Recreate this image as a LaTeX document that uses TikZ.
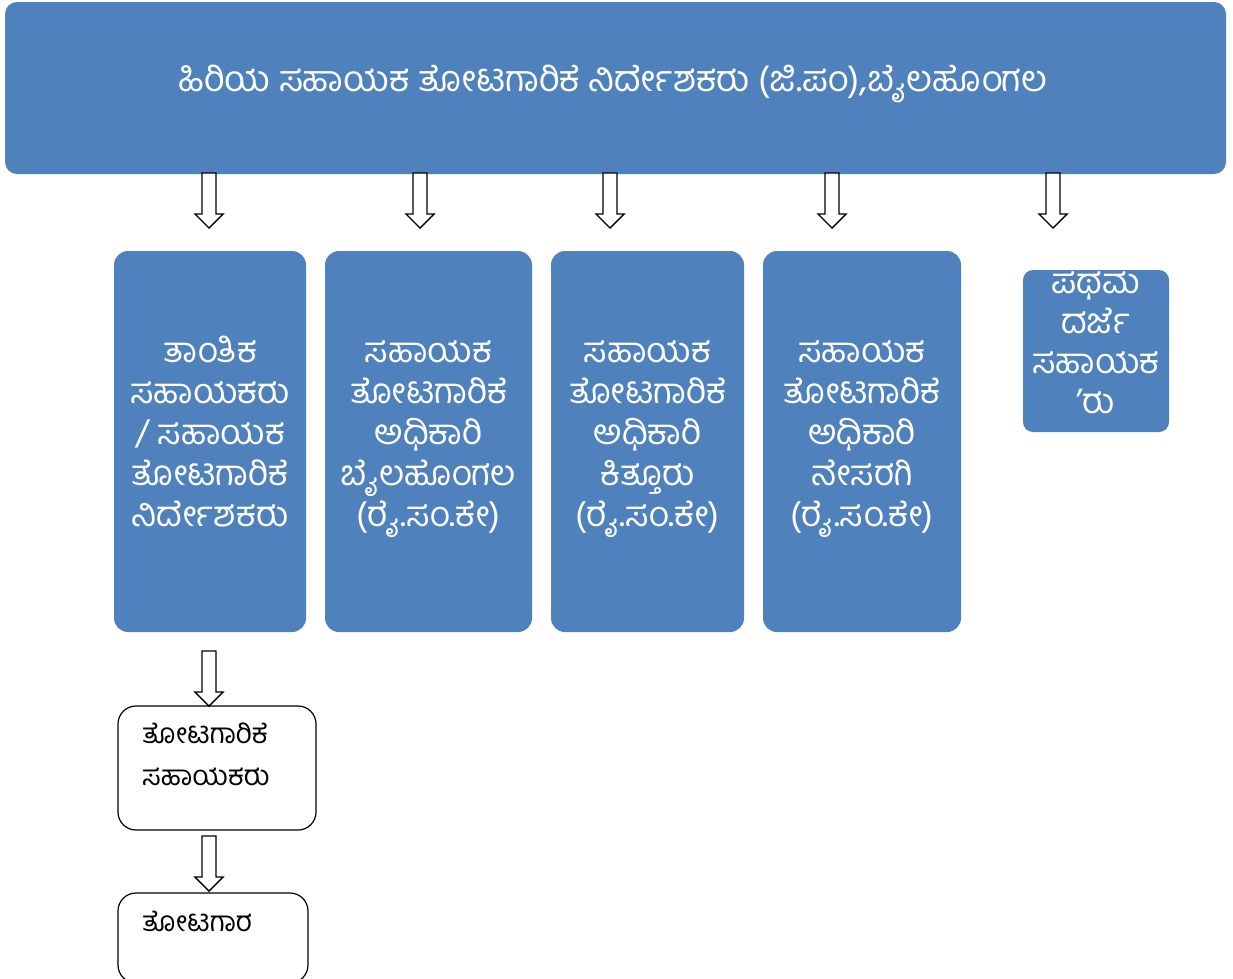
\documentclass[tikz,border=0pt]{standalone}
\usepackage{fontspec}
\newfontfamily\kn[Script=Kannada]{Hind Mysuru}
\definecolor{boxblue}{HTML}{4F81BD}
\newcommand\blockarrow[1]{%
  \draw[barrow] (#1) ++(-7,0) -- ++(0,41) -- ++(-7,0) -- ++(14,14) -- ++(14,-14) -- ++(-7,0) -- ++(0,-41) -- cycle;}
\begin{document}
\begin{tikzpicture}[x=1pt,y=-1pt,
  bluebox/.style={rectangle,rounded corners=14pt,fill=boxblue,text=white,inner sep=0pt,
    align=center,font=\kn\fontsize{35}{41}\selectfont,text height=181pt,text depth=12pt},
  whitebox/.style={rectangle,rounded corners=18pt,draw=black,line width=1.2pt,fill=white,inner sep=0pt},
  smalltext/.style={inner sep=0pt,align=left,anchor=north west,font=\kn\fontsize{28}{42}\selectfont},
  barrow/.style={draw=black,fill=white,line width=1.4pt,line join=miter}]
\useasboundingbox (0,0) rectangle (1233,978);
\clip (0,0) rectangle (1233,978);
\fill[white] (0,0) rectangle (1233,978);
% top banner
\node[bluebox,minimum width=1221pt,minimum height=172pt,rounded corners=12pt,text height=0pt,text depth=0pt] (top) at (615.5,88) {};
\node[text=white,inner sep=0pt,font=\kn\fontsize{36}{30}\selectfont] (title) at (613,84) {ಹಿರಿಯ ಸಹಾಯಕ ತೋಟಗಾರಿಕೆ ನಿರ್ದೇಶಕರು (ಜಿ.ಪಂ),ಬೈಲಹೊಂಗಲ};
% second row
\node[bluebox,minimum width=192pt,minimum height=381pt] (b1) at (210,441.5) {ತಾಂತಿಕ\\ಸಹಾಯಕರು\\/ ಸಹಾಯಕ\\ತೋಟಗಾರಿಕೆ\\ನಿರ್ದೇಶಕರು};
\node[bluebox,minimum width=207pt,minimum height=381pt] (b2) at (428.5,441.5) {ಸಹಾಯಕ\\ತೋಟಗಾರಿಕೆ\\ಅಧಿಕಾರಿ\\ಬೈಲಹೊಂಗಲ\\(ರೈ.ಸಂ.ಕೇ)};
\node[bluebox,minimum width=193pt,minimum height=381pt] (b3) at (647.5,441.5) {ಸಹಾಯಕ\\ತೋಟಗಾರಿಕೆ\\ಅಧಿಕಾರಿ\\ಕಿತ್ತೂರು\\(ರೈ.ಸಂ.ಕೇ)};
\node[bluebox,minimum width=198pt,minimum height=381pt] (b4) at (862,441.5) {ಸಹಾಯಕ\\ತೋಟಗಾರಿಕೆ\\ಅಧಿಕಾರಿ\\ನೇಸರಗಿ\\(ರೈ.ಸಂ.ಕೇ)};
\node[bluebox,minimum width=146pt,minimum height=162pt,rounded corners=10pt,font=\kn\fontsize{35}{40}\selectfont,text height=137pt,text depth=12pt] (b5) at (1096,351) {ಪಥಮ\\ದರ್ಜೆ\\ಸಹಾಯಕ\\’ರು};
% bottom chain
\node[whitebox,minimum width=198pt,minimum height=124pt] (c1) at (217,768) {};
\node[smalltext] (c1t) at (142,723) {ತೋಟಗಾರಿಕೆ\\ಸಹಾಯಕರು};
\node[whitebox,minimum width=190pt,minimum height=90pt] (c2) at (213,938) {};
\node[smalltext] (c2t) at (142,911) {ತೋಟಗಾರ};
% arrows
\coordinate (a1) at (209,173);
\coordinate (a2) at (420,173);
\coordinate (a3) at (610,173);
\coordinate (a4) at (832,173);
\coordinate (a5) at (1053,173);
\coordinate (a6) at (209,651);
\coordinate (a7) at (209,836);
\blockarrow{a1}\blockarrow{a2}\blockarrow{a3}\blockarrow{a4}\blockarrow{a5}\blockarrow{a6}\blockarrow{a7}
\end{tikzpicture}
\end{document}
